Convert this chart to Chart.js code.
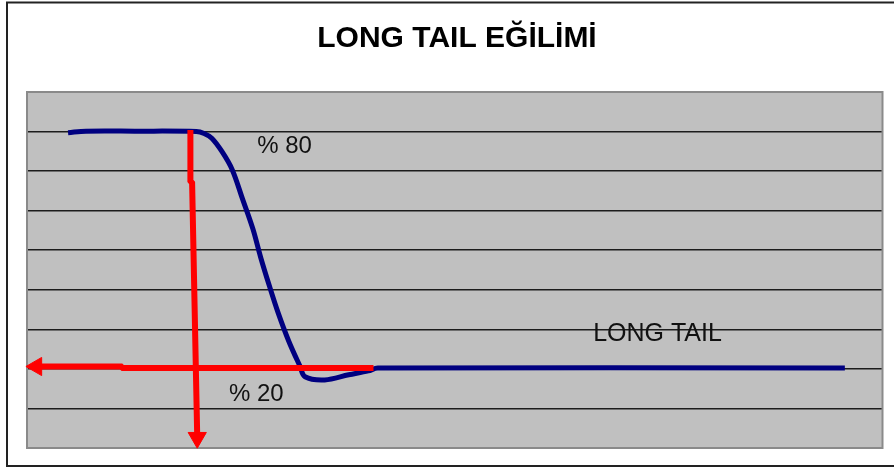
<!DOCTYPE html>
<html>
<head>
<meta charset="utf-8">
<title>LONG TAIL EĞİLİMİ</title>
<style>
  html, body { margin: 0; padding: 0; background: #ffffff; }
  canvas { display: block; }
</style>
<script src="https://cdn.jsdelivr.net/npm/chart.js@4"></script>
</head>
<body>
<canvas id="chart" width="894" height="468"></canvas>
<script>
// Share curve: product range (x, 0..100) against share of sales (y, %)
const curveX = [4.8, 6.9, 12.6, 19.8, 20.7, 21.6, 22.8, 24.0, 25.2, 26.4, 27.3, 28.3, 29.4, 30.6, 31.9, 32.5, 34.8, 37.6, 39.9, 41.0, 95.6];
const curveY = [79.7, 80.1, 80.1, 80.0, 79.5, 78.3, 74.9, 70.3, 62.9, 55.4, 48.3, 41.2, 33.9, 27.0, 20.7, 18.0, 17.2, 18.5, 19.5, 20.2, 20.2];

// Red guide arrows: the 80 % cut-off (down) and the 20 % level (left)
const cutoffX = [19.1, 19.1, 19.3, 19.9];
const cutoffY = [80.4, 67.5, 67.0, 2.6];
const levelX = [40.5, 11.2, 11.0, 1.1];
const levelY = [20.2, 20.2, 20.6, 20.6];

// Axis range and gridline step
const xRange = [0, 100];
const yRange = [0, 90];
const yStep = 10;

// Text notes on the plot: [text, x, y] in axis units
const notes = [
  ['% 80', 30.1, 76.3],
  ['% 20', 26.8, 13.6],
  ['LONG TAIL', 73.7, 28.8]
];

const toPoints = (xs, ys) => xs.map((x, i) => ({ x, y: ys[i] }));

const backdrop = {
  id: 'backdrop',
  beforeDraw(chart) {
    const { ctx, chartArea: a } = chart;
    ctx.save();
    ctx.fillStyle = '#ffffff';
    ctx.fillRect(0, 0, chart.width, chart.height);
    // outer frame
    ctx.strokeStyle = '#222222';
    ctx.lineWidth = 2;
    ctx.strokeRect(7, 2.5, 920, 463.5);
    // plot area
    ctx.fillStyle = '#c0c0c0';
    ctx.fillRect(a.left, a.top, a.right - a.left, a.bottom - a.top);
    ctx.restore();
  },
  beforeDatasetsDraw(chart) {
    const { ctx, chartArea: a } = chart;
    ctx.save();
    ctx.strokeStyle = '#8a8a8a';
    ctx.lineWidth = 2;
    ctx.strokeRect(a.left, a.top, a.right - a.left, a.bottom - a.top);
    ctx.restore();
  }
};

const plotNotes = {
  id: 'plotNotes',
  afterDatasetsDraw(chart) {
    const { ctx, scales } = chart;
    ctx.save();
    ctx.fillStyle = '#111111';
    ctx.textAlign = 'center';
    ctx.textBaseline = 'middle';
    notes.forEach(([text, x, y]) => {
      ctx.font = (text.length > 5 ? '25px' : '24px') + ' "Liberation Sans", Arial, sans-serif';
      ctx.fillText(text, scales.x.getPixelForValue(x), scales.y.getPixelForValue(y));
    });
    ctx.restore();
  }
};

const red = '#ff0000';

new Chart(document.getElementById('chart'), {
  type: 'line',
  data: {
    datasets: [
      {
        data: toPoints(cutoffX, cutoffY),
        borderColor: red,
        borderWidth: 6,
        tension: 0,
        pointRadius: cutoffX.map((_, i) => (i === cutoffX.length - 1 ? 10.5 : 0)),
        pointStyle: 'triangle',
        rotation: 180,
        pointBackgroundColor: red,
        pointBorderColor: red,
        pointBorderWidth: 1,
        clip: false
      },
      {
        data: toPoints(levelX, levelY),
        borderColor: red,
        borderWidth: 6,
        tension: 0,
        pointRadius: levelX.map((_, i) => (i === levelX.length - 1 ? 10.5 : 0)),
        pointStyle: 'triangle',
        rotation: 270,
        pointBackgroundColor: red,
        pointBorderColor: red,
        pointBorderWidth: 1,
        clip: false
      },
      {
        data: toPoints(curveX, curveY),
        borderColor: '#000080',
        borderWidth: 5,
        tension: 0.35,
        pointRadius: 0,
        borderJoinStyle: 'round',
        clip: false
      }
    ]
  },
  options: {
    responsive: false,
    animation: false,
    devicePixelRatio: 1,
    layout: { padding: { left: 27, right: 7, top: 0, bottom: 20 } },
    plugins: {
      legend: { display: false },
      tooltip: { enabled: false },
      title: {
        display: true,
        text: 'LONG TAIL EĞİLİMİ',
        color: '#000000',
        font: { family: '"Liberation Sans", Arial, sans-serif', size: 30, weight: 'bold', lineHeight: 1.2 },
        padding: { top: 21, bottom: 35 }
      }
    },
    scales: {
      x: {
        type: 'linear',
        min: xRange[0],
        max: xRange[1],
        grid: { display: false, drawTicks: false },
        ticks: { display: false },
        border: { display: false }
      },
      y: {
        min: yRange[0],
        max: yRange[1],
        ticks: { display: false, stepSize: yStep },
        border: { display: false },
        grid: {
          drawTicks: false,
          lineWidth: 1.6,
          color: (ctx) => (ctx.tick && (ctx.tick.value === yRange[0] || ctx.tick.value === yRange[1]) ? 'rgba(0,0,0,0)' : '#1c1c1c')
        }
      }
    }
  },
  plugins: [backdrop, plotNotes]
});
</script>
</body>
</html>
